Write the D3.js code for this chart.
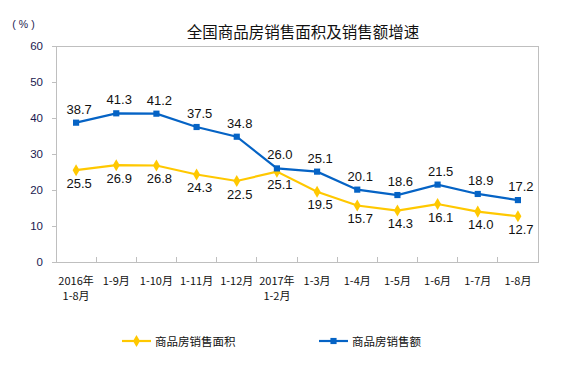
<!DOCTYPE html>
<html><head><meta charset="utf-8">
<script src="https://cdn.jsdelivr.net/npm/d3@7"></script>
<style>body{margin:0;background:#fff}svg{display:block}</style>
</head><body><svg id="c" width="578" height="369"></svg>
<script>
const categories = [["2016年","1-8月"],["1-9月"],["1-10月"],["1-11月"],["1-12月"],["2017年","1-2月"],["1-3月"],["1-4月"],["1-5月"],["1-6月"],["1-7月"],["1-8月"]];
const areaGrowth = [25.5,26.9,26.8,24.3,22.5,25.1,19.5,15.7,14.3,16.1,14.0,12.7];
const salesGrowth = [38.7,41.3,41.2,37.5,34.8,26.0,25.1,20.1,18.6,21.5,18.9,17.2];
const yTicks = [0,10,20,30,40,50,60];
const seriesNames = ["商品房销售面积","商品房销售额"];
const title = "全国商品房销售面积及销售额增速";

const svg = d3.select("#c");
const font = "'Noto Sans CJK SC','Liberation Sans',sans-serif";
const L=56, R=538, T=46, B=262;
const x = d3.scaleBand().domain(d3.range(categories.length)).range([L,R]);
const y = d3.scaleLinear().domain([0,60]).range([B,T]);
const grey="#bfbfbf", yellow="#FFC800", blue="#0563C5";

svg.append("text").attr("x",303).attr("y",31).attr("text-anchor","middle").attr("dominant-baseline","central")
  .style("font-family",font).style("font-size","15.5px").attr("fill","#111").text(title);
svg.append("text").attr("x",25).attr("y",24).attr("text-anchor","middle").attr("dominant-baseline","central")
  .style("font-family","'Liberation Sans',sans-serif").style("font-size","10.5px").style("letter-spacing","3px").attr("fill","#1a1a50").text("(%)");

// frame
svg.append("rect").attr("x",L).attr("y",T).attr("width",R-L).attr("height",B-T).attr("fill","none").attr("stroke",grey).attr("stroke-width",1).attr("shape-rendering","crispEdges");

// y axis
const ya = svg.append("g").attr("transform",`translate(${L},0)`)
  .call(d3.axisLeft(y).tickValues(yTicks).tickSize(4).tickPadding(9));
ya.select(".domain").attr("stroke",grey);
ya.selectAll(".tick line").attr("stroke",grey);
ya.selectAll("text").style("font-family","'Liberation Sans',Arial,sans-serif").style("font-size","11.5px").attr("fill","#1a1a50");

// x axis ticks at band boundaries
const bounds = d3.range(1,categories.length);
svg.append("g").selectAll("line").data(bounds).join("line")
  .attr("x1",i=>x(i)).attr("x2",i=>x(i)).attr("y1",B).attr("y2",B-5).attr("stroke",grey).attr("shape-rendering","crispEdges");
const xl = svg.append("g").selectAll("text").data(categories).join("text")
  .attr("x",(d,i)=>x(i)+x.bandwidth()/2).attr("y",280).attr("text-anchor","middle")
  .attr("dominant-baseline","central").style("font-family",font).style("font-size","11px").attr("fill","#111");
xl.each(function(d){
  const t=d3.select(this);
  d.forEach((s,k)=>t.append("tspan").attr("x",t.attr("x")).attr("dy",k===0?0:15).text(s));
});

const cx = i=>x(i)+x.bandwidth()/2;
const line = d3.line().x((d,i)=>cx(i)).y(d=>y(d));
function drawSeries(vals,color,shape,labelDy){
  svg.append("path").datum(vals).attr("d",line).attr("fill","none").attr("stroke",color).attr("stroke-width",2.2);
  svg.append("g").selectAll("path").data(vals).join("path")
    .attr("transform",(d,i)=>`translate(${cx(i)},${y(d)})`)
    .attr("d",d3.symbol().type(shape).size(shape===d3.symbolSquare?38:42)).attr("fill",color);
  svg.append("g").selectAll("text").data(vals).join("text")
    .attr("x",(d,i)=>cx(i)+3).attr("y",d=>y(d)+labelDy).attr("text-anchor","middle").attr("dominant-baseline","central")
    .style("font-family","'Liberation Sans',Arial,sans-serif").style("font-size","13px").attr("fill","#111")
    .text(d=>d.toFixed(1));
}
drawSeries(areaGrowth,yellow,d3.symbolDiamond,13);
drawSeries(salesGrowth,blue,d3.symbolSquare,-13.5);

// legend
const leg=[{name:seriesNames[0],color:yellow,shape:d3.symbolDiamond,x:122},{name:seriesNames[1],color:blue,shape:d3.symbolSquare,x:319}];
leg.forEach(l=>{
  const g=svg.append("g").attr("transform",`translate(${l.x},341)`);
  g.append("line").attr("x1",0).attr("x2",29).attr("stroke",l.color).attr("stroke-width",2.2);
  g.append("path").attr("transform","translate(14.5,0)").attr("d",d3.symbol().type(l.shape).size(l.shape===d3.symbolSquare?38:42)).attr("fill",l.color);
  g.append("text").attr("x",33).attr("dominant-baseline","central").style("font-family",font).style("font-size","11.5px").attr("fill","#111").text(l.name);
});
</script></body></html>
